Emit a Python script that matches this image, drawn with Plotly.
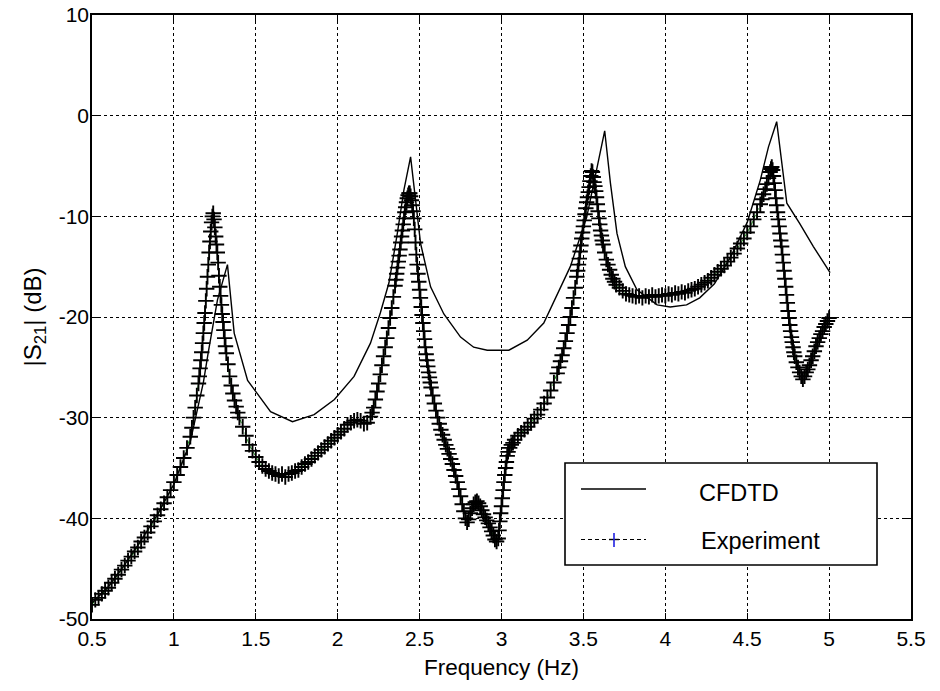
import plotly.graph_objects as go

# ---------------- data ----------------
cfdtd_freq = [0.5, 0.6, 0.7, 0.8, 0.9, 1.0, 1.1, 1.18, 1.21, 1.266, 1.327, 1.368, 1.45, 1.59,
              1.724, 1.856, 1.98, 2.10, 2.20, 2.26, 2.313, 2.364, 2.404, 2.445, 2.506, 2.567,
              2.648, 2.75, 2.83, 2.913, 3.045, 3.157, 3.258, 3.34, 3.42, 3.52, 3.63, 3.665,
              3.705, 3.756, 3.827, 3.95, 4.03, 4.13, 4.21, 4.3, 4.4, 4.5, 4.58, 4.63, 4.68,
              4.742, 4.82, 4.904, 5.006]
cfdtd_db = [-48.4, -46.8, -44.6, -42.2, -39.6, -36.6, -32.4, -26.5, -23.5, -18.3, -14.8, -21.6,
            -26.3, -29.4, -30.4, -29.7, -28.2, -25.9, -22.6, -19.6, -16.6, -11.7, -7.4, -4.1,
            -12.7, -17.0, -19.7, -22.0, -23.0, -23.3, -23.3, -22.3, -20.6, -17.8, -15.0, -10.1,
            -1.5, -6.7, -11.7, -15.0, -17.3, -18.8, -19.0, -18.8, -18.1, -16.7, -14.0, -10.6,
            -6.4, -3.1, -0.6, -8.7, -10.7, -13.0, -15.6]

exp_freq = [
    0.50, 0.52, 0.54, 0.56, 0.58, 0.60, 0.62, 0.64, 0.66, 0.68, 0.70, 0.72, 0.74, 0.76, 0.78,
    0.80, 0.82, 0.84, 0.86, 0.88, 0.90, 0.92, 0.94, 0.96, 0.98, 1.00, 1.02, 1.04, 1.06, 1.08,
    1.10, 1.11, 1.12, 1.13, 1.14,
    1.150, 1.155, 1.160, 1.165, 1.170, 1.175, 1.180, 1.185, 1.190, 1.195, 1.200, 1.205, 1.210,
    1.215, 1.220, 1.225, 1.230, 1.235, 1.240,
    1.245, 1.250, 1.255, 1.260, 1.265, 1.270, 1.275, 1.280, 1.285, 1.290, 1.295, 1.300, 1.305,
    1.310, 1.315, 1.320, 1.330, 1.340, 1.350, 1.360, 1.370, 1.380, 1.390, 1.400,
    1.42, 1.44, 1.46, 1.48, 1.50, 1.52, 1.54, 1.56, 1.58, 1.60, 1.62, 1.64, 1.66, 1.68, 1.70,
    1.72, 1.74, 1.76, 1.78, 1.80, 1.82, 1.84, 1.86, 1.88, 1.90, 1.92, 1.94, 1.96, 1.98, 2.00,
    2.02, 2.04, 2.06, 2.08, 2.10, 2.12, 2.14, 2.16, 2.18, 2.20,
    2.21, 2.22, 2.23, 2.24, 2.25, 2.26, 2.27, 2.28, 2.29, 2.30, 2.31, 2.32, 2.33, 2.34, 2.35,
    2.355, 2.36, 2.365, 2.37, 2.375, 2.38, 2.385, 2.39, 2.395, 2.40, 2.405, 2.41, 2.415, 2.42,
    2.425, 2.43, 2.435, 2.44, 2.445,
    2.450, 2.455, 2.460, 2.465, 2.470, 2.475, 2.480, 2.485, 2.490, 2.495, 2.500, 2.505, 2.510,
    2.515, 2.520, 2.525, 2.530, 2.535, 2.540, 2.545, 2.550, 2.555, 2.560, 2.565, 2.570,
    2.58, 2.59, 2.60, 2.61, 2.62, 2.63, 2.64, 2.65, 2.66, 2.67, 2.68, 2.69, 2.70, 2.71, 2.72,
    2.73, 2.74, 2.75, 2.76, 2.77, 2.78, 2.79, 2.80, 2.81, 2.82, 2.83, 2.84, 2.85, 2.86, 2.87,
    2.88, 2.89, 2.90, 2.91, 2.92, 2.93, 2.94, 2.95, 2.96, 2.97, 2.98,
    2.985, 2.99, 2.995, 3.00, 3.005, 3.01, 3.015, 3.02, 3.025, 3.03, 3.035, 3.04,
    3.05, 3.06, 3.07, 3.08, 3.10, 3.12, 3.14, 3.16, 3.18, 3.20, 3.22, 3.24, 3.26, 3.28, 3.30,
    3.32, 3.34, 3.35, 3.36, 3.37, 3.38, 3.39, 3.40, 3.41, 3.42, 3.43, 3.44, 3.45, 3.46,
    3.465, 3.47, 3.475, 3.48, 3.485, 3.49, 3.495, 3.50, 3.505, 3.51, 3.515, 3.52, 3.525, 3.53,
    3.535, 3.54, 3.545, 3.55, 3.555, 3.56, 3.565, 3.57, 3.575, 3.58, 3.585, 3.59, 3.595, 3.60,
    3.605, 3.61, 3.615, 3.62,
    3.63, 3.64, 3.65, 3.66, 3.67, 3.68, 3.69, 3.70, 3.72, 3.74, 3.76, 3.78, 3.80, 3.82, 3.84,
    3.86, 3.88, 3.90, 3.92, 3.94, 3.96, 3.98, 4.00, 4.02, 4.04, 4.06, 4.08, 4.10, 4.12, 4.14,
    4.16, 4.18, 4.20, 4.22, 4.24, 4.26, 4.28, 4.30, 4.32, 4.34, 4.36, 4.38, 4.40, 4.42, 4.44,
    4.46, 4.48, 4.50, 4.52, 4.54, 4.56, 4.58, 4.59, 4.60, 4.61, 4.62, 4.63, 4.64, 4.645, 4.65,
    4.655, 4.66, 4.665, 4.67, 4.675, 4.68, 4.685, 4.69, 4.695, 4.70, 4.705, 4.71, 4.715, 4.72,
    4.725, 4.73, 4.735, 4.74, 4.745, 4.75, 4.755, 4.76, 4.765, 4.77, 4.775, 4.78, 4.785, 4.79,
    4.80, 4.81, 4.82, 4.83, 4.84, 4.85, 4.86, 4.87, 4.88, 4.89, 4.90, 4.91, 4.92, 4.93, 4.94,
    4.95, 4.96, 4.97, 4.98, 4.99, 5.00]
exp_db = [
    -48.6, -48.1, -47.9, -47.5, -47.2, -46.9, -46.4, -46.0, -45.6, -45.1, -44.7, -44.2, -43.8,
    -43.3, -42.9, -42.3, -41.9, -41.4, -40.8, -40.3, -39.7, -39.1, -38.5, -37.9, -37.2, -36.4,
    -35.7, -34.9, -34.0, -33.0,
    -31.9, -31.0, -30.0, -29.0, -27.8,
    -26.6, -25.9, -25.1, -24.3, -23.5, -22.6, -21.6, -20.6, -19.6, -18.4, -17.2, -16.0, -14.8,
    -13.6, -12.5, -11.5, -10.6, -10.0, -9.7,
    -10.3, -11.1, -12.0, -12.8, -13.6, -14.6, -15.9, -17.0, -17.9, -18.8, -19.7, -20.5, -21.3,
    -22.1, -22.9, -23.6, -24.7, -25.9, -26.8, -27.6, -28.3, -28.9, -29.5, -30.0,
    -30.9, -31.8, -32.7, -33.3, -33.9, -34.4, -34.8, -35.1, -35.3, -35.5, -35.6, -35.8, -35.6,
    -35.9, -35.6, -35.5, -35.3, -35.2, -34.9, -34.6, -34.4, -34.1, -33.8, -33.5, -33.2, -32.9,
    -32.6, -32.3, -32.0, -31.7, -31.4, -31.1, -30.7, -30.5, -30.3, -30.2, -30.3, -30.6, -30.5,
    -29.9,
    -29.5, -29.0, -28.2, -27.4, -26.6, -25.7, -24.8, -23.9, -23.0, -22.1, -21.1, -20.1, -19.1,
    -18.0, -16.9, -16.3, -15.7, -15.1, -14.5, -13.9, -13.3, -12.6, -12.0, -11.4, -10.8, -10.2,
    -9.6, -9.1, -8.6, -8.2, -7.9, -7.7, -7.7, -8.0,
    -8.4, -8.9, -9.5, -10.2, -11.3, -12.6, -13.8, -14.8, -15.7, -16.5, -17.3, -18.1, -19.0,
    -19.8, -20.6, -21.4, -22.2, -23.0, -23.7, -24.3, -24.9, -25.5, -26.0, -26.5, -27.0,
    -27.8, -28.6, -29.3, -30.0, -30.6, -31.2, -31.7, -32.2, -32.7, -33.1, -33.6, -34.1, -34.6,
    -35.2, -35.8, -36.4, -37.1, -37.8, -38.6, -39.3, -40.0, -40.4, -40.1, -39.5, -39.0, -38.6,
    -38.4, -38.3, -38.5, -38.8, -39.2, -39.6, -39.9, -40.2, -40.5, -40.9, -41.3, -41.7, -42.1,
    -42.3, -42.0,
    -41.2, -40.3, -39.5, -38.8, -38.0, -37.2, -36.4, -35.7, -35.0, -34.4, -33.8, -33.4,
    -33.0, -32.7, -32.5, -32.2, -31.8, -31.5, -31.2, -30.9, -30.5, -30.1, -29.7, -29.2, -28.6,
    -28.0, -27.3, -26.5, -25.6, -25.0, -24.4, -23.8, -23.1, -22.4, -21.6, -20.8, -20.0, -19.1,
    -18.1, -17.1, -16.0,
    -15.4, -14.8, -14.2, -13.5, -12.9, -12.2, -11.6, -11.0, -10.4, -9.8, -9.2, -8.6, -8.1, -7.6,
    -7.1, -6.5, -6.0, -5.5, -5.6, -6.1, -6.6, -7.0, -7.5, -8.1, -8.8, -9.5, -10.2, -10.8,
    -11.4, -11.9, -12.4, -12.8,
    -13.6, -14.3, -14.8, -15.3, -15.8, -16.2, -16.5, -16.8, -17.1, -17.4, -17.7, -17.8, -17.9,
    -18.0, -17.9, -18.1, -17.9, -18.0, -17.8, -18.0, -17.9, -17.8, -17.9, -17.7, -17.8, -17.6,
    -17.7, -17.5, -17.6, -17.4, -17.3, -17.2, -17.0, -16.8, -16.6, -16.4, -16.1, -15.8, -15.5,
    -15.2, -14.9, -14.5, -14.1, -13.7, -13.2, -12.7, -12.2, -11.6, -11.0, -10.3, -9.6, -8.8,
    -8.3, -7.8, -7.3, -6.8, -6.2, -5.6, -5.3, -5.1,
    -5.4, -6.0, -6.7, -7.4, -8.2, -8.9, -9.6, -10.3, -11.0, -11.7, -12.4, -13.0, -13.8, -14.6,
    -15.4, -16.2, -17.0, -17.8, -18.6, -19.4, -20.1, -20.8, -21.4, -22.0, -22.5, -23.0, -23.5,
    -23.9, -24.5, -25.0, -25.5, -25.9, -26.2, -25.9, -25.5, -25.2, -24.8, -24.3, -23.9, -23.4,
    -22.9, -22.5, -22.1, -21.7, -21.4, -21.0, -20.7, -20.4, -20.1]

x_ticks = [0.5, 1, 1.5, 2, 2.5, 3, 3.5, 4, 4.5, 5, 5.5]
x_tick_text = ["0.5", "1", "1.5", "2", "2.5", "3", "3.5", "4", "4.5", "5", "5.5"]
y_ticks = [-50, -40, -30, -20, -10, 0, 10]
y_tick_text = ["-50", "-40", "-30", "-20", "-10", "0", "10"]
legend_names = ["CFDTD", "Experiment"]

FONT = "Arial, 'Liberation Sans', Helvetica, sans-serif"

fig = go.Figure()

fig.add_trace(go.Scatter(
    x=exp_freq, y=exp_db, mode="lines+markers", name=legend_names[1], showlegend=False,
    line=dict(color="#1a9a1a", width=1, dash="4px,3px"),
    marker=dict(symbol="cross-thin", size=11, line=dict(color="black", width=1.9)),
))
fig.add_trace(go.Scatter(
    x=cfdtd_freq, y=cfdtd_db, mode="lines", name=legend_names[0], showlegend=False,
    line=dict(color="black", width=1.4),
))

FIG_W, FIG_H = 940, 691
# plot area in page pixels (as in the reference)
L, R, B, T = 92, 911, 619, 15
W, H = R - L, B - T
def px(xp): return (xp - L) / W
def py(yp): return (B - yp) / H

shapes = [
    dict(type="rect", xref="paper", yref="paper", x0=px(565), x1=px(877), y0=py(565), y1=py(463),
         line=dict(color="black", width=1.6), fillcolor="white", layer="above"),
    dict(type="line", xref="paper", yref="paper", x0=px(581), x1=px(646), y0=py(489), y1=py(489),
         line=dict(color="black", width=1.4), layer="above"),
    dict(type="line", xref="paper", yref="paper", x0=px(581), x1=px(646), y0=py(539.5), y1=py(539.5),
         line=dict(color="black", width=1.2, dash="4px,3px"), layer="above"),
    dict(type="line", xref="paper", yref="paper", x0=px(609), x1=px(619), y0=py(539.5), y1=py(539.5),
         line=dict(color="black", width=1.4), layer="above"),
    dict(type="line", xref="paper", yref="paper", x0=px(614), x1=px(614), y0=py(533), y1=py(547),
         line=dict(color="#2020e0", width=1.6), layer="above"),
]
annotations = [
    dict(xref="paper", yref="paper", x=px(697), y=py(493), text=legend_names[0], showarrow=False,
         xanchor="left", yanchor="middle", font=dict(family=FONT, size=23.5, color="black")),
    dict(xref="paper", yref="paper", x=px(699), y=py(541), text=legend_names[1], showarrow=False,
         xanchor="left", yanchor="middle", font=dict(family=FONT, size=23.5, color="black")),
]

axis_common = dict(
    showline=True, linecolor="black", linewidth=1.6, mirror="ticks",
    ticks="inside", ticklen=6, tickcolor="black", tickwidth=1,
    showgrid=True, gridcolor="black", gridwidth=1, griddash="dot",
    zeroline=False, tickfont=dict(family=FONT, size=21, color="black"),
    automargin=False, ticklabeloverflow="allow",
)

fig.update_layout(
    width=FIG_W, height=FIG_H,
    margin=dict(l=L, r=FIG_W - R, t=T, b=FIG_H - B, autoexpand=False),
    paper_bgcolor="white", plot_bgcolor="white",
    showlegend=False,
    font=dict(family=FONT, color="black"),
    xaxis=dict(range=[0.5, 5.5], tickvals=x_ticks, ticktext=x_tick_text,
               title=dict(text="Frequency (Hz)", font=dict(family=FONT, size=22.5), standoff=10),
               **axis_common),
    yaxis=dict(range=[-50, 10], tickvals=y_ticks, ticktext=y_tick_text, ticklabelstandoff=-3,
               title=dict(text="|S<sub>21</sub>| (dB)", font=dict(family=FONT, size=24), standoff=10),
               **axis_common),
    shapes=shapes, annotations=annotations,
)

# remove the browser's default page margin so the figure fills the window exactly
fig.write_html(
    "out.html",
    config={"displayModeBar": False},
    post_script="document.body.style.margin='0';document.body.style.overflow='hidden';",
)
